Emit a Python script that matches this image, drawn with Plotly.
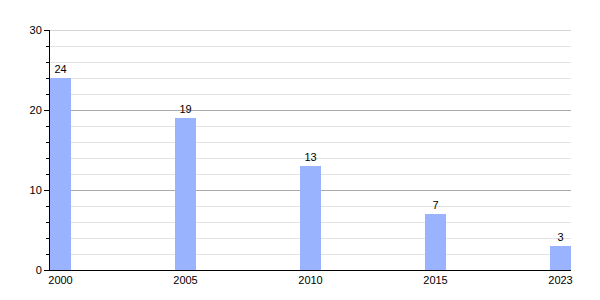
import plotly.graph_objects as go

years = ["2000", "2005", "2010", "2015", "2023"]
values = [24, 19, 13, 7, 3]

fig = go.Figure()
fig.add_trace(go.Bar(
    x=years, y=values, width=0.168,
    marker=dict(color="#99b3ff", line=dict(width=0)),
    text=[str(v) for v in values], textposition="outside",
    textfont=dict(family="Liberation Sans, Arial, sans-serif", size=11, color="#000"),
    cliponaxis=False,
))
fig.update_layout(
    width=600, height=300,
    margin=dict(l=50, r=29, t=30, b=30),
    paper_bgcolor="white", plot_bgcolor="white",
    showlegend=False,
    font=dict(family="Liberation Sans, Arial, sans-serif", size=11, color="#000"),
    bargap=0,
    shapes=[dict(type="line", xref="paper", x0=0, x1=1, yref="y", y0=30, y1=30,
                 line=dict(color="#aaaaaa", width=1), layer="below")],
)
fig.update_xaxes(
    type="category", range=[-0.084, 4.084],
    showline=True, linecolor="black", linewidth=1,
    ticks="", showgrid=False, ticklabelstandoff=0,
    tickfont=dict(color="#000"),
)
fig.update_yaxes(
    range=[0, 30], dtick=10, tick0=0,
    showline=True, linecolor="black", linewidth=1,
    ticks="outside", ticklen=5, tickcolor="#000",
    tickfont=dict(color="#000"),
    showgrid=True, gridcolor="#aaaaaa", gridwidth=1,
    zeroline=False,
    minor=dict(dtick=2, ticks="outside", ticklen=3, tickcolor="#000",
               showgrid=True, gridcolor="#e3e3e3", gridwidth=1),
)
fig.write_html("out.html")
